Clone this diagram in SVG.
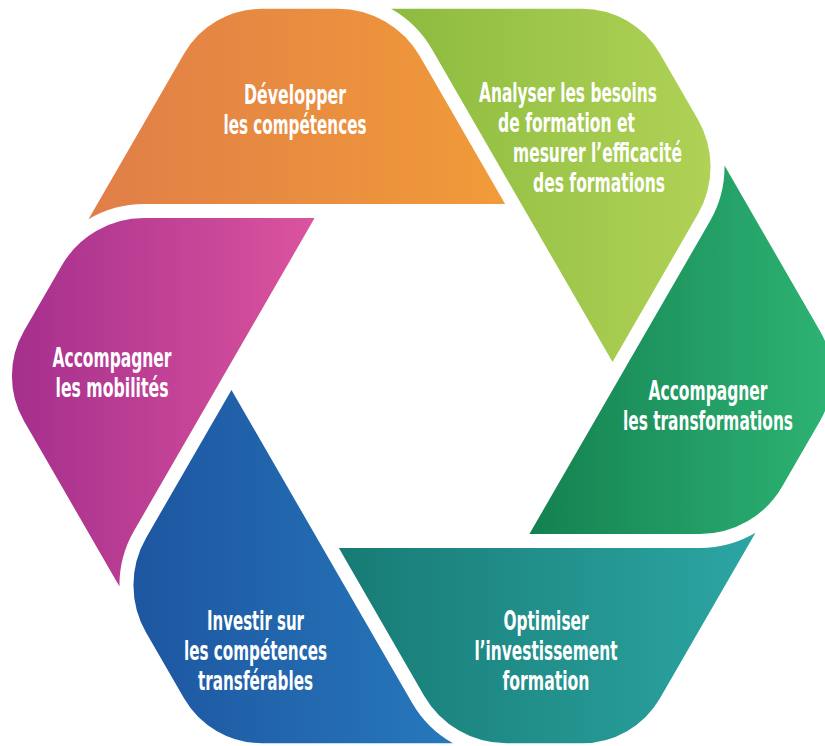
<svg xmlns="http://www.w3.org/2000/svg" width="825" height="746" viewBox="0 0 825 746">
<defs>
<path id="seg" d="M 505.13 204 L 144.07 204 A 109 109 0 0 0 88.5 219.2 L 184.02 53.8 A 90 90 0 0 1 261.96 8.8 L 337.6 8.8 A 95 95 0 0 1 419.9 56.3 Z"/>
<linearGradient id="gOrange" gradientUnits="userSpaceOnUse" x1="88" y1="0" x2="505" y2="0"><stop offset="0" stop-color="#E07E48"/><stop offset="1" stop-color="#F19B39"/></linearGradient>
<linearGradient id="gGreen" gradientUnits="userSpaceOnUse" x1="388" y1="0" x2="715" y2="0" gradientTransform="rotate(-60 422 376)"><stop offset="0" stop-color="#8CBB3F"/><stop offset="1" stop-color="#B0D256"/></linearGradient>
<linearGradient id="gDark" gradientUnits="userSpaceOnUse" x1="529" y1="0" x2="825" y2="0" gradientTransform="rotate(-120 422 376)"><stop offset="0" stop-color="#148150"/><stop offset="1" stop-color="#2DB273"/></linearGradient>
<linearGradient id="gTeal" gradientUnits="userSpaceOnUse" x1="339" y1="0" x2="760" y2="0" gradientTransform="rotate(-180 422 376)"><stop offset="0" stop-color="#187B75"/><stop offset="1" stop-color="#2CA6A3"/></linearGradient>
<linearGradient id="gBlue" gradientUnits="userSpaceOnUse" x1="130" y1="0" x2="456" y2="0" gradientTransform="rotate(-240 422 376)"><stop offset="0" stop-color="#1D56A0"/><stop offset="1" stop-color="#2778BC"/></linearGradient>
<linearGradient id="gPink" gradientUnits="userSpaceOnUse" x1="12" y1="0" x2="318" y2="0" gradientTransform="rotate(-300 422 376)"><stop offset="0" stop-color="#A52F8D"/><stop offset="1" stop-color="#DC549E"/></linearGradient>
</defs>
<style>
.lbl{font-family:"Liberation Sans Narrow","DejaVu Sans Condensed","Roboto Condensed",sans-serif;font-weight:bold;font-size:26px;fill:#ffffff}
.c{text-anchor:middle}
.e{text-anchor:end}
</style>
<rect width="825" height="746" fill="#ffffff"/>
<g id="connectors"></g>
<g id="node-developper">
<use href="#seg" fill="url(#gOrange)"/>
<text class="lbl c" x="295" y="104" textLength="102" lengthAdjust="spacingAndGlyphs">Développer</text>
<text class="lbl c" x="295" y="134" textLength="143" lengthAdjust="spacingAndGlyphs">les compétences</text>
</g>
<g id="node-analyser">
<use href="#seg" transform="rotate(60 422 376)" fill="url(#gGreen)"/>
<text class="lbl" x="479" y="102" textLength="178" lengthAdjust="spacingAndGlyphs">Analyser les besoins</text>
<text class="lbl" x="498" y="132" textLength="137" lengthAdjust="spacingAndGlyphs">de formation et</text>
<text class="lbl" x="513" y="162" textLength="169" lengthAdjust="spacingAndGlyphs">mesurer l’efficacité</text>
<text class="lbl" x="533" y="192" textLength="132" lengthAdjust="spacingAndGlyphs">des formations</text>
</g>
<g id="node-transformations">
<use href="#seg" transform="rotate(120 422 376)" fill="url(#gDark)"/>
<text class="lbl c" x="708" y="400" textLength="119" lengthAdjust="spacingAndGlyphs">Accompagner</text>
<text class="lbl e" x="793" y="430" textLength="170" lengthAdjust="spacingAndGlyphs">les transformations</text>
</g>
<g id="node-optimiser">
<use href="#seg" transform="rotate(180 422 376)" fill="url(#gTeal)"/>
<text class="lbl c" x="546" y="630" textLength="85" lengthAdjust="spacingAndGlyphs">Optimiser</text>
<text class="lbl c" x="546" y="660" textLength="143" lengthAdjust="spacingAndGlyphs">l’investissement</text>
<text class="lbl c" x="546" y="690" textLength="87" lengthAdjust="spacingAndGlyphs">formation</text>
</g>
<g id="node-investir">
<use href="#seg" transform="rotate(240 422 376)" fill="url(#gBlue)"/>
<text class="lbl c" x="255.5" y="630" textLength="97" lengthAdjust="spacingAndGlyphs">Investir sur</text>
<text class="lbl c" x="255.5" y="660" textLength="143" lengthAdjust="spacingAndGlyphs">les compétences</text>
<text class="lbl c" x="255.5" y="690" textLength="115" lengthAdjust="spacingAndGlyphs">transférables</text>
</g>
<g id="node-mobilites">
<use href="#seg" transform="rotate(300 422 376)" fill="url(#gPink)"/>
<text class="lbl c" x="112" y="367" textLength="119" lengthAdjust="spacingAndGlyphs">Accompagner</text>
<text class="lbl c" x="112" y="397" textLength="113" lengthAdjust="spacingAndGlyphs">les mobilités</text>
</g>
</svg>
